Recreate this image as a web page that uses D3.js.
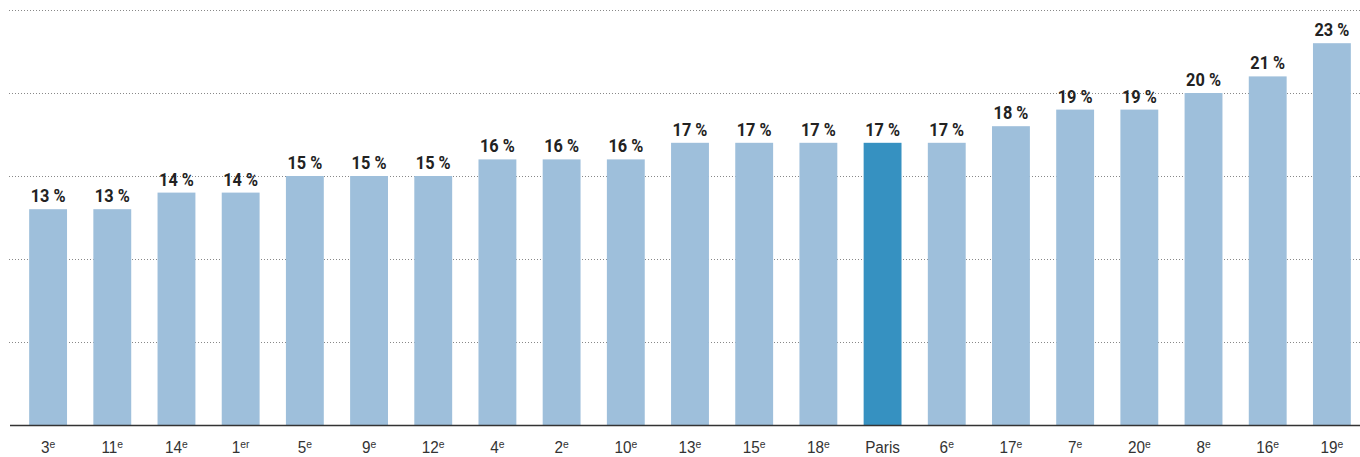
<!DOCTYPE html>
<html>
<head>
<meta charset="utf-8">
<script src="https://cdn.jsdelivr.net/npm/d3@7"></script>
<style>
  body { margin: 0; background: #fff; }
  svg { display: block; font-family: Roboto, "Noto Sans", sans-serif; }
</style>
</head>
<body>
<svg id="chart"></svg>
<script>
let arrondissements = ['3', '11', '14', '1', '5', '9', '12', '4', '2', '10', '13', '15', '18', 'Paris', '6', '17', '7', '20', '8', '16', '19']
let suffixes = ['e', 'e', 'e', 'er', 'e', 'e', 'e', 'e', 'e', 'e', 'e', 'e', 'e', '', 'e', 'e', 'e', 'e', 'e', 'e', 'e']
let values = [13, 13, 14, 14, 15, 15, 15, 16, 16, 16, 17, 17, 17, 17, 17, 18, 19, 19, 20, 21, 23]
let gridTicks = [5, 10, 15, 20, 25]

let width = 1360
let height = 457
let baseY = 425

let svg = d3.select('#chart')
    .attr('width', width)
    .attr('height', height)

let xScale = d3.scaleBand()
    .domain(arrondissements)
    .range([16, 1364])
    .paddingInner(0.41)
    .paddingOuter(0.205)

let yScale = d3.scaleLinear()
    .domain([0, 25])
    .range([baseY, 10])

// dotted grid
let grid = svg.append('g')
    .attr('class', 'grid')
    .attr('transform', 'translate(9, 0)')
    .call(d3.axisRight(yScale).tickValues(gridTicks).tickSize(width - 9).tickFormat(''))
grid.select('.domain').remove()
grid.selectAll('.tick line')
    .attr('stroke', '#888')
    .attr('stroke-width', 1)
    .attr('stroke-dasharray', '1,2')

// bars
svg.selectAll('rect.bar')
    .data(values)
    .enter()
    .append('rect')
    .attr('class', 'bar')
    .attr('x', (d, i) => xScale(arrondissements[i]))
    .attr('y', (d) => yScale(d))
    .attr('width', xScale.bandwidth())
    .attr('height', (d) => baseY - yScale(d))
    .attr('fill', (d, i) => arrondissements[i] === 'Paris' ? '#3691c1' : '#9ebfdb')

// value labels
svg.selectAll('text.val')
    .data(values)
    .enter()
    .append('text')
    .attr('class', 'val')
    .attr('transform', (d, i) => 'translate(' + (xScale(arrondissements[i]) + xScale.bandwidth() / 2) + ',' + (yScale(d) - 7) + ') scale(0.86,1)')
    .attr('text-anchor', 'middle')
    .attr('font-size', 19)
    .attr('font-weight', 700)
    .attr('fill', '#222')
    .text((d) => d + ' %')

// x axis
let xAxis = svg.append('g')
    .attr('transform', 'translate(0,' + baseY + ')')
    .call(d3.axisBottom(xScale).tickSize(0).tickPadding(0))
xAxis.select('.domain').remove()
xAxis.selectAll('.tick text').remove()
xAxis.selectAll('.tick').each(function(d, i) {
    let t = d3.select(this).append('text')
        .attr('y', 28)
        .attr('transform', 'scale(0.9,1)')
        .attr('text-anchor', 'middle')
        .attr('font-size', 17)
        .attr('fill', '#333')
    t.append('tspan').text(d)
    if (suffixes[i]) {
        t.append('tspan')
            .attr('font-size', 11.5)
            .attr('dy', -5)
            .text(suffixes[i])
    }
})

svg.append('line')
    .attr('x1', 10)
    .attr('x2', width)
    .attr('y1', baseY + 0.5)
    .attr('y2', baseY + 0.5)
    .attr('stroke', '#333')
    .attr('stroke-width', 1.5)
</script>
</body>
</html>
